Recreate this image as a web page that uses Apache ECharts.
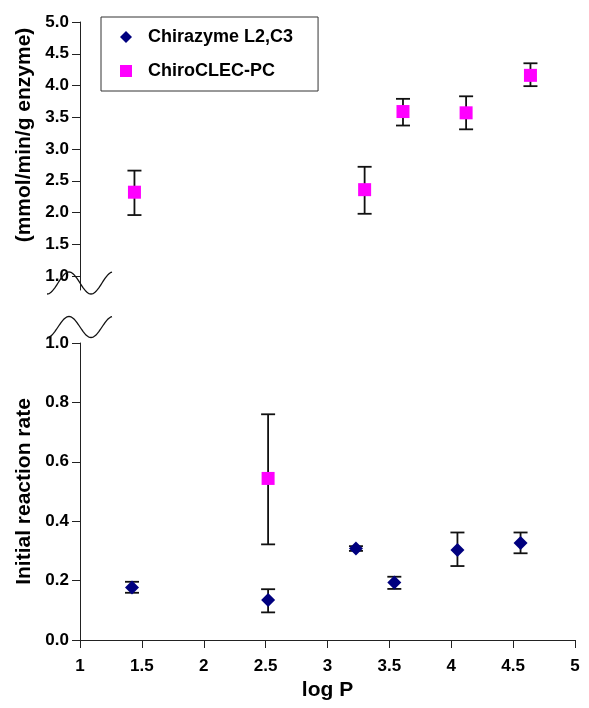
<!DOCTYPE html>
<html>
<head>
  <meta charset="UTF-8">
  <title></title>
  <script type="text/javascript" src="https://cdn.jsdelivr.net/npm/echarts@6/dist/echarts.min.js"></script>
  <style type="text/css">
    *{ margin:0; padding:0; box-sizing:border-box; }
    html, body{ width:589px; height:708px; background:#fff; }
    #main{ width:589px; height:708px; }
  </style>
</head>
<body>
  <div id="main"></div>
  <script type="text/javascript">
    // x values (log P) and rates
    var clecTopLogP = [1.44, 3.30, 3.61, 4.12, 4.64];
    var clecTopRate = [2.32, 2.36, 3.59, 3.57, 4.16];
    var clecTopLo   = [1.96, 1.98, 3.37, 3.31, 3.99];
    var clecTopHi   = [2.66, 2.72, 3.79, 3.83, 4.35];

    var clecLowLogP = [2.52];
    var clecLowRate = [0.544];
    var clecLowLo   = [0.322];
    var clecLowHi   = [0.760];

    var chiraLogP = [1.42, 2.52, 3.23, 3.54, 4.05, 4.56];
    var chiraRate = [0.177, 0.135, 0.308, 0.194, 0.303, 0.327];
    var chiraLo   = [0.159, 0.093, 0.300, 0.172, 0.249, 0.292];
    var chiraHi   = [0.196, 0.171, 0.316, 0.213, 0.362, 0.362];

    var xTicks = [1, 1.5, 2, 2.5, 3, 3.5, 4, 4.5, 5];
    var upperTicks = [1.0, 1.5, 2.0, 2.5, 3.0, 3.5, 4.0, 4.5, 5.0];

    function pts(xs, ys){ return xs.map(function(x, i){ return [x, ys[i]]; }); }
    function errs(xs, lo, hi){ return xs.map(function(x, i){ return [x, lo[i], hi[i]]; }); }

    // error bar drawn through the axis scales
    function renderErr(params, api){
      var x = api.value(0);
      var top = api.coord([x, api.value(2)]);
      var bot = api.coord([x, api.value(1)]);
      var w = 7;
      var st = { stroke:'#111', lineWidth:1.8 };
      return { type:'group', children:[
        { type:'line', shape:{ x1:top[0], y1:top[1], x2:bot[0], y2:bot[1] }, style:st },
        { type:'line', shape:{ x1:top[0]-w, y1:top[1], x2:top[0]+w, y2:top[1] }, style:st },
        { type:'line', shape:{ x1:bot[0]-w, y1:bot[1], x2:bot[0]+w, y2:bot[1] }, style:st }
      ]};
    }

    // wavy axis-break marks
    function wave(x0, x1, mid, amp){
      var p = [];
      for (var x = x0; x <= x1; x += 1) {
        p.push([x, mid + amp * Math.cos(2 * Math.PI * (x - x0) / 44)]);
      }
      return p;
    }

    var font = 'Liberation Sans, Arial, sans-serif';
    var axLine = { show:true, lineStyle:{ color:'#222', width:1 } };
    var axTick = { show:true, inside:false, length:8, lineStyle:{ color:'#222', width:1 } };
    var tickLbl = { color:'#000', fontWeight:'bold', fontSize:17, fontFamily:font };
    var nameLbl = { color:'#000', fontWeight:'bold', fontSize:21, fontFamily:font };

    var myChart = echarts.init(document.getElementById('main'));
    var option = {
      animation:false,
      backgroundColor:'#fff',
      grid:[
        { left:80, top:22, width:495, height:268 },
        { left:80, top:343, width:495, height:297 }
      ],
      legend:{
        left:101, top:17, orient:'vertical',
        data:[ { name:'Chirazyme L2,C3', icon:'diamond' }, { name:'ChiroCLEC-PC', icon:'rect' } ],
        itemWidth:12, itemHeight:12, itemGap:16,
        padding:[11, 25, 11, 19],
        borderColor:'#333', borderWidth:1,
        textStyle:{ color:'#000', fontWeight:'bold', fontSize:18, fontFamily:font, lineHeight:18, padding:[0,0,0,11] }
      },
      xAxis:[
        { gridIndex:0, type:'value', min:1, max:5, show:false },
        { gridIndex:1, type:'value', min:1, max:5, interval:0.5,
          name:'log P', nameLocation:'middle', nameGap:40, nameTextStyle:nameLbl,
          axisLine:axLine, axisTick:axTick, splitLine:{ show:false },
          axisLabel:Object.assign({ margin:18, customValues:xTicks, formatter:function(v){ return String(v); } }, tickLbl) }
      ],
      yAxis:[
        { gridIndex:0, type:'value', min:0.78, max:5,
          axisLine:axLine, splitLine:{ show:false },
          axisTick:{ show:true, length:8, customValues:upperTicks, lineStyle:{ color:'#222', width:1 } },
          axisLabel:Object.assign({ margin:11, customValues:upperTicks, formatter:function(v){ return v.toFixed(1); } }, tickLbl) },
        { gridIndex:1, type:'value', min:0, max:1, interval:0.2,
          name:'Initial reaction rate', nameLocation:'middle', nameGap:45, nameTextStyle:nameLbl,
          axisLine:axLine, axisTick:axTick, splitLine:{ show:false },
          axisLabel:Object.assign({ margin:11, formatter:function(v){ return v.toFixed(1); } }, tickLbl) }
      ],
      graphic:[
        { type:'text', x:24, y:135, rotation:Math.PI/2,
          style:{ text:'(mmol/min/g enzyme)', fill:'#000', fontWeight:'bold', fontSize:21, fontFamily:font, align:'center', verticalAlign:'middle' } },
        { type:'polyline', shape:{ points:wave(47, 112, 283, 11) }, style:{ stroke:'#111', lineWidth:1.3, fill:null }, z:10 },
        { type:'polyline', shape:{ points:wave(47, 112, 327, 10.5) }, style:{ stroke:'#111', lineWidth:1.3, fill:null }, z:10 }
      ],
      series:[
        { type:'custom', xAxisIndex:0, yAxisIndex:0, renderItem:renderErr, data:errs(clecTopLogP, clecTopLo, clecTopHi), encode:{ x:0, y:[1,2] }, z:1 },
        { type:'custom', xAxisIndex:1, yAxisIndex:1, renderItem:renderErr, data:errs(clecLowLogP, clecLowLo, clecLowHi), encode:{ x:0, y:[1,2] }, z:1 },
        { type:'custom', xAxisIndex:1, yAxisIndex:1, renderItem:renderErr, data:errs(chiraLogP, chiraLo, chiraHi), encode:{ x:0, y:[1,2] }, z:1 },
        { name:'Chirazyme L2,C3', type:'scatter', xAxisIndex:1, yAxisIndex:1, symbol:'diamond', symbolSize:14,
          itemStyle:{ color:'#00007F', opacity:1 }, data:pts(chiraLogP, chiraRate), z:3 },
        { name:'ChiroCLEC-PC', type:'scatter', xAxisIndex:0, yAxisIndex:0, symbol:'rect', symbolSize:13,
          itemStyle:{ color:'#FF00FF', opacity:1 }, data:pts(clecTopLogP, clecTopRate), z:3 },
        { name:'ChiroCLEC-PC', type:'scatter', xAxisIndex:1, yAxisIndex:1, symbol:'rect', symbolSize:13,
          itemStyle:{ color:'#FF00FF', opacity:1 }, data:pts(clecLowLogP, clecLowRate), z:3 }
      ]
    };
    myChart.setOption(option);
  </script>
</body>
</html>
